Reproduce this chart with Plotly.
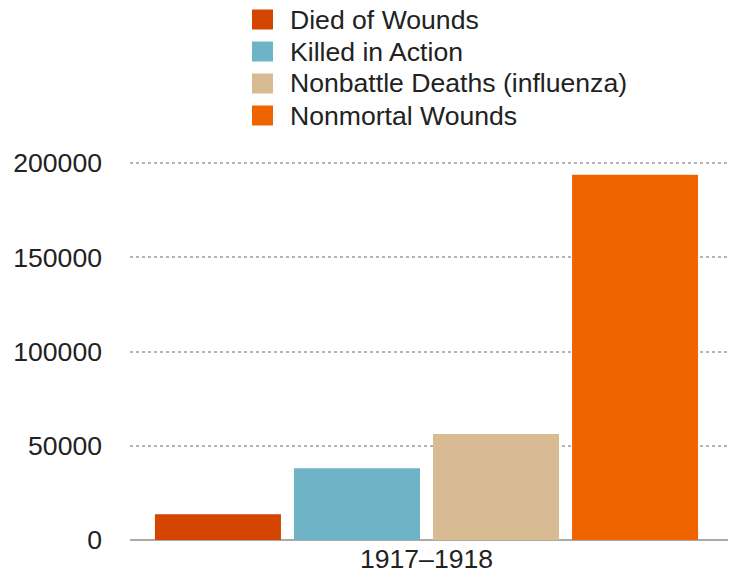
import plotly.graph_objects as go

categories = ["1917–1918"]
series_names = ["Died of Wounds", "Killed in Action", "Nonbattle Deaths (influenza)", "Nonmortal Wounds"]
series_values = [13700, 38100, 56200, 193800]
colors = ["#d44500", "#6fb3c7", "#d8bb93", "#f06400"]
tick_vals = [0, 50000, 100000, 150000, 200000]
tick_text = ["0", "50000", "100000", "150000", "200000"]

W, H = 732, 579
ML, MR, MT, MB = 130, 4, 150, 39
PW, PH = W - ML - MR, H - MT - MB
FS = 26.6

fig = go.Figure()
for name, val, col in zip(series_names, series_values, colors):
    fig.add_trace(go.Bar(x=categories, y=[val], name=name,
                         marker=dict(color=col, line=dict(width=0)), showlegend=False))

# manual legend (squares + real text), placed in paper coordinates
leg_sq_x = (262.5 - ML) / PW
leg_tx_x = (289 - ML) / PW
for i, (name, col) in enumerate(zip(series_names, colors)):
    yc = (MT + PH - (19.5 + 32 * i)) / PH
    fig.add_shape(type="rect", xref="paper", yref="paper", xsizemode="pixel", ysizemode="pixel",
                  xanchor=leg_sq_x, yanchor=yc, x0=-10.5, x1=10.5, y0=-10, y1=10,
                  fillcolor=col, line=dict(width=0))
    fig.add_annotation(xref="paper", yref="paper", x=leg_tx_x, y=yc, xanchor="left", yanchor="middle",
                       text=name, showarrow=False, font=dict(size=FS, color="#222"), borderpad=0)

fig.update_layout(
    width=W, height=H,
    margin=dict(l=ML, r=MR, t=MT, b=MB, autoexpand=False),
    paper_bgcolor="white", plot_bgcolor="white",
    font=dict(family="Liberation Sans, Arial, sans-serif", size=FS, color="#222"),
    barmode="group", bargap=0.07, bargroupgap=0.0935,
    showlegend=False,
    xaxis=dict(showgrid=False, showline=False, ticks="", tickfont=dict(size=FS),
               range=[-0.4958, 0.5042]),
    yaxis=dict(range=[0, 206897], tickvals=tick_vals, ticktext=tick_text, showgrid=True,
               gridcolor="#b4b4b4", griddash="dot", gridwidth=1.5, zeroline=True,
               zerolinecolor="#aaaaaa", zerolinewidth=2, ticks="", ticklabelstandoff=27,
               tickfont=dict(size=FS)),
)
fig.write_html("out.html", config={"displayModeBar": False},
               post_script="document.body.style.margin='0';")
